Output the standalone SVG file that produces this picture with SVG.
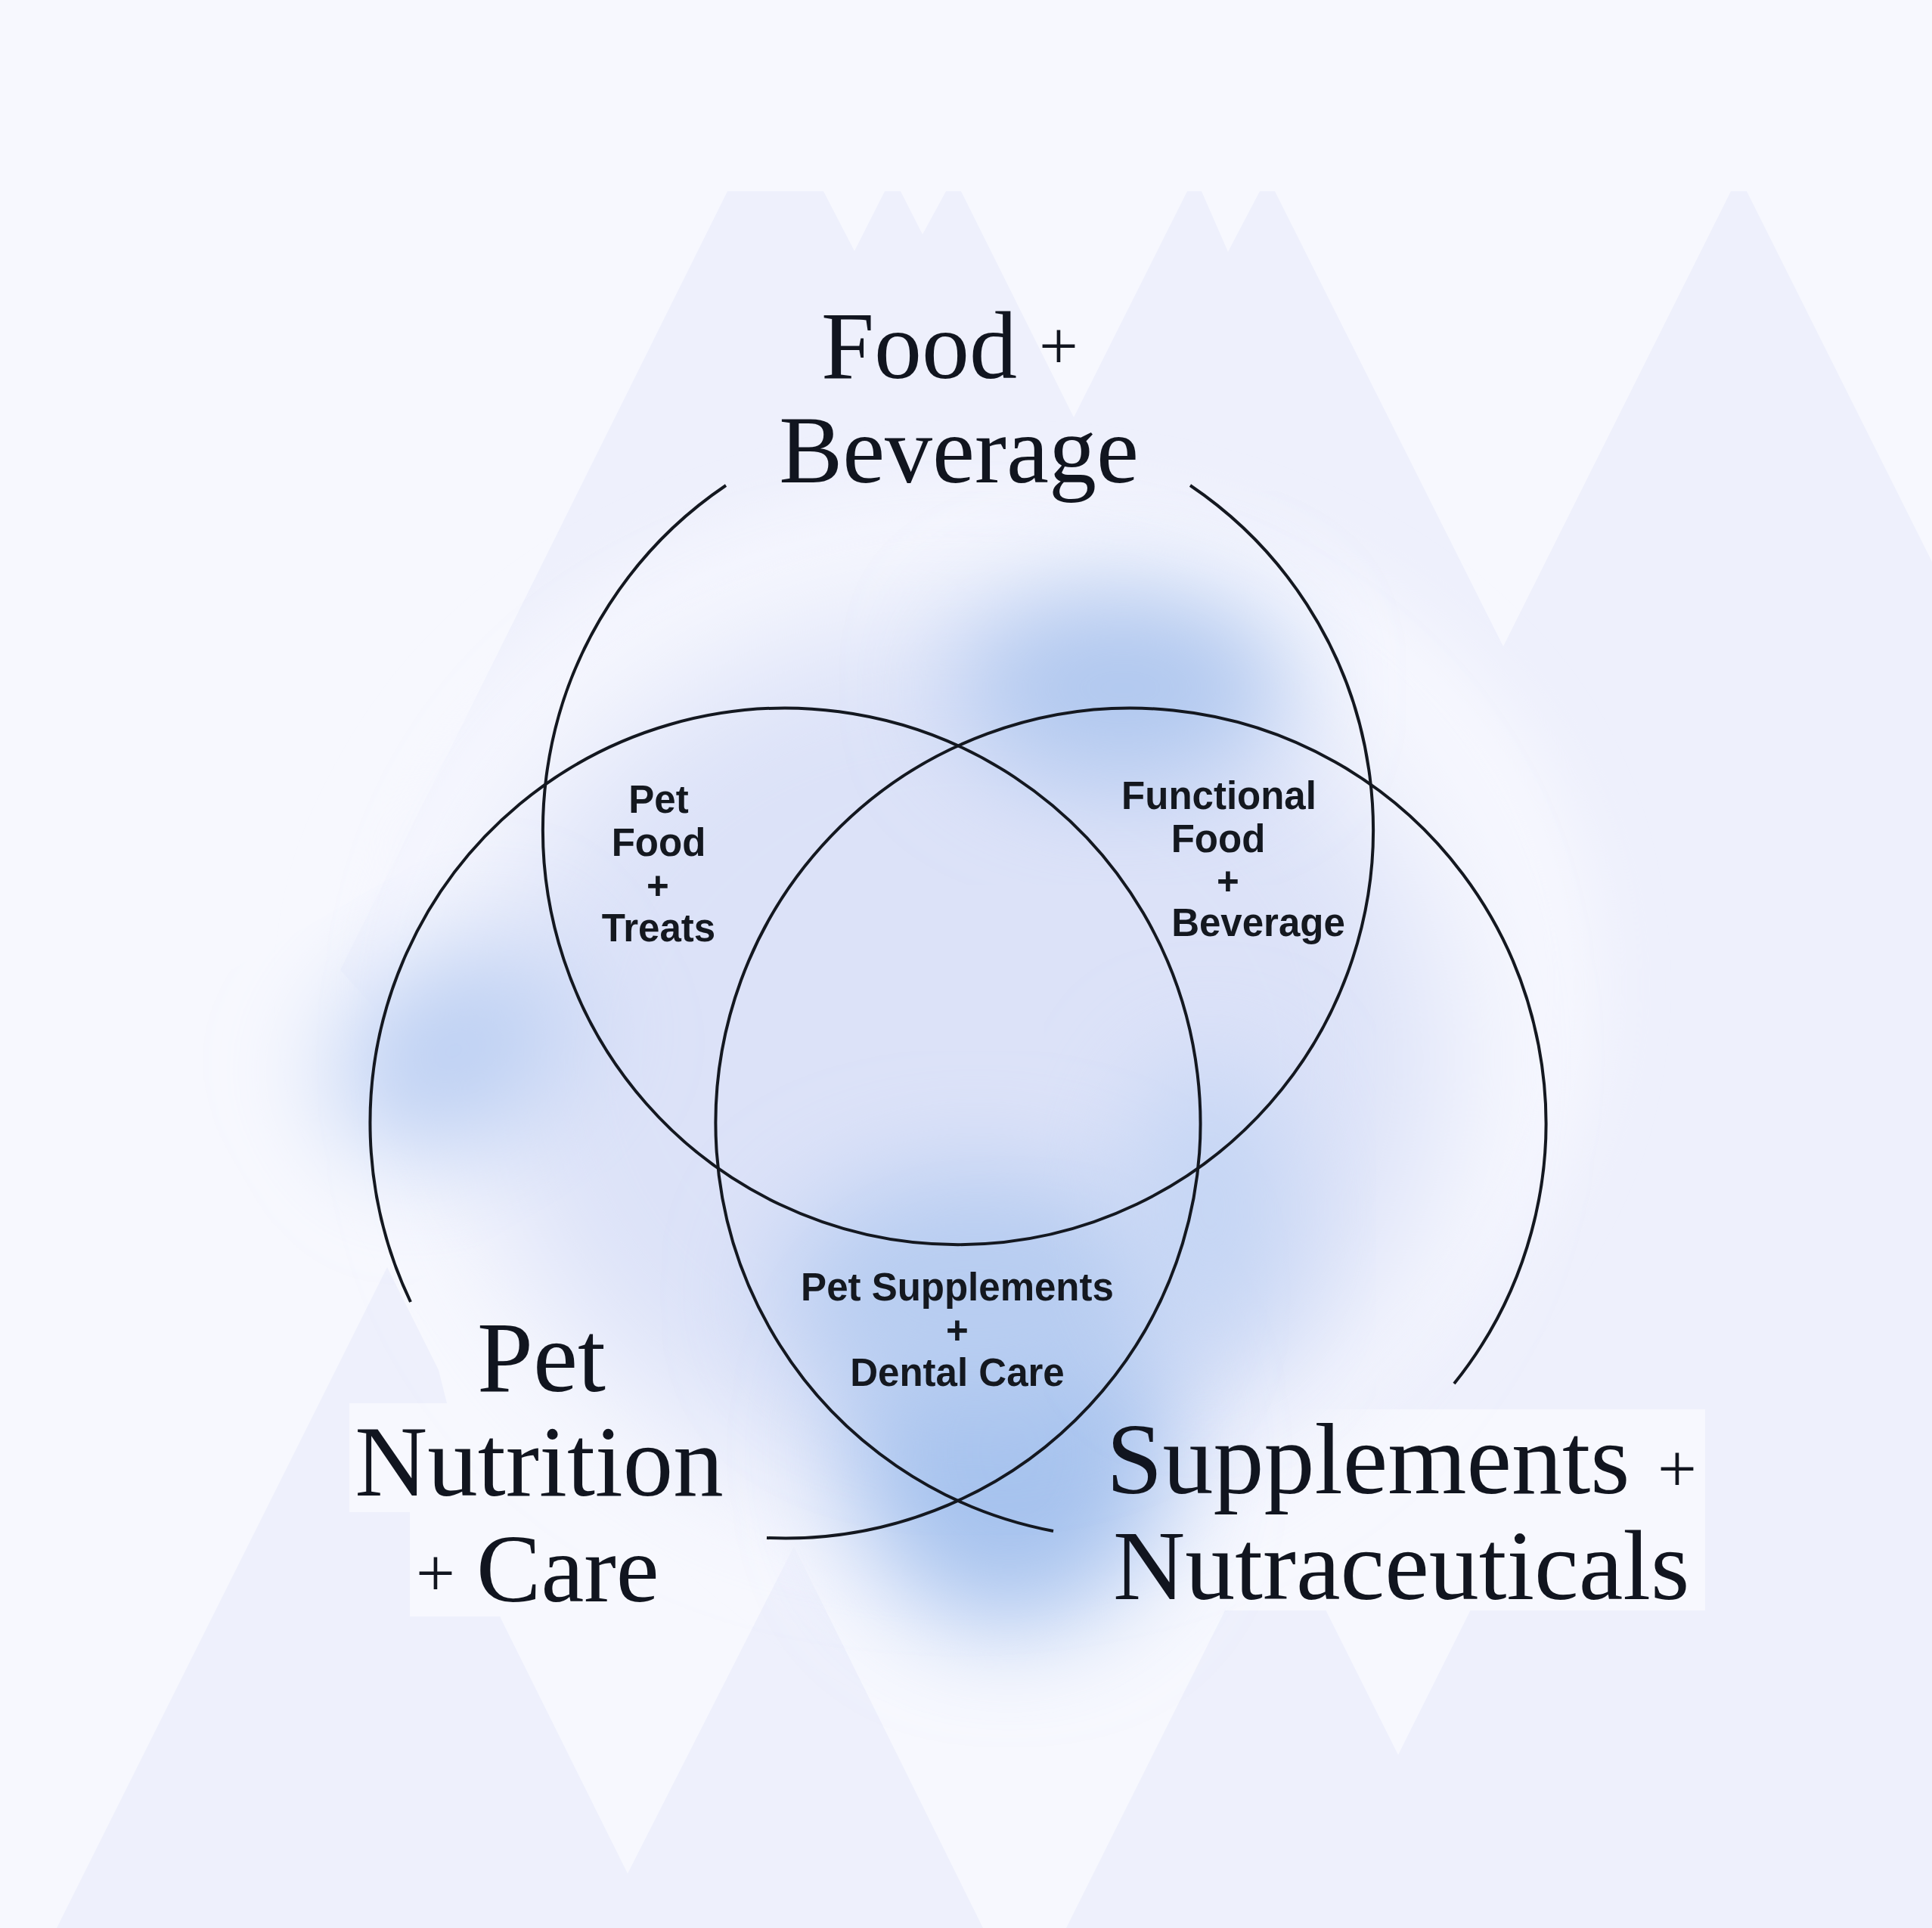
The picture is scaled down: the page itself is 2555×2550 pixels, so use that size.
<svg xmlns="http://www.w3.org/2000/svg" width="2555" height="2550" viewBox="0 0 2555 2550">
<defs>
<style>
.bg{fill:#f7f8fe}
.mt{fill:#eef0fc}
.ring{fill:none;stroke:#141820;stroke-width:4;stroke-linecap:butt}
.big{font-family:"Liberation Serif","Times New Roman",serif;fill:#11151f}
.plus{font-family:"Liberation Serif","Times New Roman",serif;fill:#11151f;font-size:92px;text-anchor:middle}
.small{font-family:"Liberation Sans",Arial,sans-serif;font-weight:bold;font-size:51px;fill:#14181f;text-anchor:middle}
</style>
<filter id="b40" x="-50%" y="-50%" width="200%" height="200%"><feGaussianBlur stdDeviation="40"/></filter>
<filter id="b70" x="-50%" y="-50%" width="200%" height="200%"><feGaussianBlur stdDeviation="70"/></filter>
<filter id="b90" x="-50%" y="-50%" width="200%" height="200%"><feGaussianBlur stdDeviation="90"/></filter>
</defs>

<g id="background">
<rect class="bg" x="0" y="0" width="2555" height="2550"/>
<polygon class="mt" points="962,253 1089,253 1130,332 1170,253 1191,253 1220,310 1251,253 1271,253 1420,552 1570,253 1589,253 1624,333 1666,253 1686,253 1988,855 2289,253 2310,253 2555,743 2555,2550 1410,2550 1700,1970 1000,1750 600,1450 450,1283"/>
<polygon class="mt" points="75,2550 512,1676 580,1812 662,2140 830,2478 1050,2045 1300,2550"/>
<polygon class="bg" points="1752,2127 1849,2321 1946,2127"/>
<rect class="bg" x="1445" y="1864" width="810" height="266"/>
<polygon class="bg" points="612,1757 965,1757 965,2000 885,2000 885,2138 542,2138 542,2000 462,2000 462,1856 612,1856"/>
</g>

<g id="glow">
<path d="M1270,650 C1600,640 1850,760 2000,950 C2130,1120 2140,1350 2080,1500 C1980,1760 1700,1950 1420,2150 C1250,2250 1050,2080 900,1930 C760,1800 640,1700 560,1580 C440,1420 420,1260 520,1080 C650,820 950,660 1270,650 Z" fill="#f6f7fe" filter="url(#b40)"/>
<ellipse cx="1270" cy="1400" rx="640" ry="580" fill="#dce2f8" filter="url(#b90)"/>
<ellipse cx="1485" cy="910" rx="220" ry="130" fill="#b0c8ef" filter="url(#b70)"/>
<ellipse cx="600" cy="1390" rx="170" ry="120" fill="#bdd0f3" transform="rotate(-30 600 1390)" filter="url(#b70)"/>
<ellipse cx="1335" cy="1920" rx="210" ry="230" fill="#a6c2ee" filter="url(#b70)"/>
<ellipse cx="1290" cy="1710" rx="260" ry="160" fill="#b8cdf1" filter="url(#b70)"/>
<ellipse cx="1600" cy="1600" rx="110" ry="200" fill="#c4d5f4" filter="url(#b70)"/>
</g>

<g id="connectors">
<path class="ring" d="M960,642 A549,549 0 1 0 1574,642"/>
<path class="ring" d="M543,1722 A549,549 0 1 1 1014,2034"/>
<path class="ring" d="M1393,2025 A549,549 0 1 1 1923,1830"/>
</g>

<g id="node-food-beverage">
<text class="big" x="1086" y="500" font-size="126">Food</text>
<text class="plus" x="1400" y="488">+</text>
<text class="big" x="1268" y="638" font-size="126" text-anchor="middle">Beverage</text>
</g>

<g id="node-pet-nutrition-care">
<text class="big" x="716" y="1840" font-size="133" text-anchor="middle">Pet</text>
<text class="big" x="713" y="1978" font-size="133" text-anchor="middle">Nutrition</text>
<text class="plus" x="576" y="2111">+</text>
<text class="big" x="630" y="2118" font-size="128">Care</text>
</g>

<g id="node-supplements-nutraceuticals">
<text class="big" x="1463" y="1975" font-size="134">Supplements</text>
<text class="plus" x="2218" y="1973">+</text>
<text class="big" x="1472" y="2115" font-size="132">Nutraceuticals</text>
</g>

<g id="node-pet-food-treats">
<text class="small" x="871" y="1075">Pet</text>
<text class="small" x="871" y="1132">Food</text>
<text class="small" x="870" y="1189">+</text>
<text class="small" x="871" y="1245">Treats</text>
</g>

<g id="node-functional-food-beverage">
<text class="small" x="1612" y="1070">Functional</text>
<text class="small" x="1611" y="1127">Food</text>
<text class="small" x="1624" y="1183">+</text>
<text class="small" x="1664" y="1238">Beverage</text>
</g>

<g id="node-pet-supplements-dental-care">
<text class="small" x="1266" y="1720">Pet Supplements</text>
<text class="small" x="1266" y="1777">+</text>
<text class="small" x="1266" y="1833">Dental Care</text>
</g>
</svg>
